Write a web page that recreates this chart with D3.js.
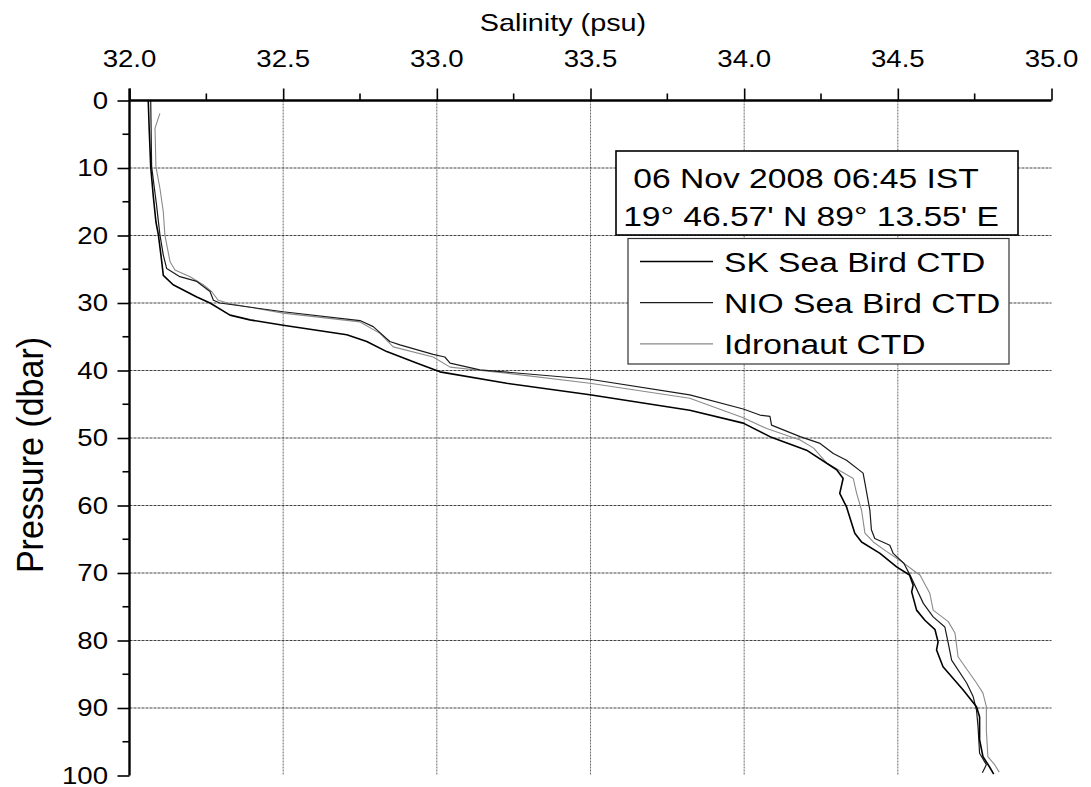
<!DOCTYPE html>
<html>
<head>
<meta charset="utf-8">
<script src="https://cdn.jsdelivr.net/npm/d3@7"></script>
<style>
  html, body { margin: 0; padding: 0; background: #fff; }
  svg { display: block; font-family: "Liberation Sans", Arial, sans-serif; }
</style>
</head>
<body>
<svg id="chart" width="1091" height="787"></svg>
<script>
// CTD salinity profiles, pressure (dbar) vs salinity (psu)
const skPressure = [0, 4.1, 9.8, 14.0, 18.0, 19.9, 23.9, 25.9, 27.3, 29.1, 30.0, 31.8, 32.5, 33.3, 34.7, 35.7, 37.2, 38.9, 40.2, 41.9, 43.6, 45.9, 47.8, 49.8, 51.8, 54.7, 56.0, 58.2, 60.2, 64.1, 65.4, 67.1, 69.1, 70.3, 71.8, 72.8, 75.5, 77.0, 78.4, 80.2, 81.4, 83.9, 87.3, 89.8, 91.3, 94.7, 97.2, 98.7, 99.8];
const skSalinity = [32.061, 32.064, 32.069, 32.077, 32.086, 32.094, 32.105, 32.110, 32.142, 32.219, 32.262, 32.327, 32.392, 32.500, 32.707, 32.772, 32.837, 32.934, 33.010, 33.227, 33.498, 33.823, 33.997, 34.084, 34.203, 34.301, 34.322, 34.311, 34.333, 34.360, 34.382, 34.442, 34.496, 34.538, 34.550, 34.545, 34.561, 34.588, 34.621, 34.631, 34.626, 34.647, 34.712, 34.756, 34.766, 34.766, 34.777, 34.798, 34.812];

const nioPressure = [0, 9.8, 15.5, 19.9, 22.9, 24.9, 26.1, 26.8, 28.3, 29.6, 30.0, 31.3, 32.6, 33.5, 35.7, 36.2, 37.6, 38.0, 38.9, 39.9, 41.3, 43.6, 45.7, 46.6, 46.8, 48.1, 49.8, 50.8, 52.3, 53.3, 55.2, 56.7, 60.7, 63.6, 64.9, 65.9, 67.1, 68.6, 70.8, 74.5, 76.5, 78.0, 80.4, 82.9, 86.3, 88.3, 90.3, 92.8, 96.7, 98.4, 99.6];
const nioSalinity = [32.069, 32.072, 32.088, 32.099, 32.110, 32.121, 32.164, 32.219, 32.262, 32.273, 32.294, 32.500, 32.750, 32.793, 32.847, 32.880, 32.988, 33.026, 33.043, 33.140, 33.498, 33.823, 33.997, 34.051, 34.084, 34.089, 34.182, 34.247, 34.290, 34.333, 34.387, 34.393, 34.409, 34.414, 34.425, 34.474, 34.485, 34.520, 34.545, 34.583, 34.615, 34.653, 34.664, 34.675, 34.724, 34.745, 34.756, 34.761, 34.766, 34.788, 34.775];

const idroPressure = [1.9, 4.1, 9.8, 13.0, 16.5, 19.9, 23.9, 25.1, 26.1, 27.3, 28.3, 29.6, 30.1, 31.5, 32.8, 34.5, 36.5, 38.0, 39.5, 40.4, 41.9, 44.1, 47.0, 48.6, 50.3, 51.5, 53.7, 56.0, 58.2, 60.7, 64.1, 65.4, 66.8, 68.1, 69.6, 70.3, 73.0, 75.5, 77.2, 78.9, 82.4, 86.3, 87.8, 89.8, 93.3, 97.2, 98.4, 99.5];
const idroSalinity = [32.099, 32.083, 32.086, 32.099, 32.110, 32.115, 32.132, 32.148, 32.197, 32.240, 32.267, 32.289, 32.327, 32.500, 32.750, 32.815, 32.858, 32.988, 33.043, 33.227, 33.498, 33.823, 33.997, 34.073, 34.182, 34.226, 34.268, 34.355, 34.366, 34.382, 34.393, 34.420, 34.463, 34.506, 34.550, 34.572, 34.604, 34.615, 34.664, 34.686, 34.696, 34.756, 34.777, 34.788, 34.788, 34.793, 34.815, 34.830];

const seriesNames = ["SK Sea Bird CTD", "NIO Sea Bird CTD", "Idronaut CTD"];
const salinityTicks = [32.0, 32.5, 33.0, 33.5, 34.0, 34.5, 35.0];
const salinityMinorTicks = [32.25, 32.75, 33.25, 33.75, 34.25, 34.75];
const pressureTicks = [0, 10, 20, 30, 40, 50, 60, 70, 80, 90, 100];
const pressureMinorTicks = [5, 15, 25, 35, 45, 55, 65, 75, 85, 95];
const stationLines = ["06 Nov 2008 06:45 IST", "19° 46.57' N 89° 13.55' E"];

const series = [
  { name: seriesNames[0], p: skPressure, s: skSalinity, color: "#000", width: 1.6 },
  { name: seriesNames[1], p: nioPressure, s: nioSalinity, color: "#1a1a1a", width: 1.2 },
  { name: seriesNames[2], p: idroPressure, s: idroSalinity, color: "#8a8a8a", width: 1.1 }
];

const svg = d3.select("#chart");
const plotLeft = 129.5, plotRight = 1051.5, plotTop = 100.5, plotBottom = 775.5;
const x = d3.scaleLinear().domain([32, 35]).range([plotLeft, plotRight]);
const y = d3.scaleLinear().domain([0, 100]).range([plotTop, plotBottom]);
const SX = 1.2; // glyphs are drawn wide

function label(g, tx, ty, txt, size, anchor) {
  return g.append("g").attr("transform", `translate(${tx},${ty}) scale(${SX},1)`)
    .append("text").attr("x", 0).attr("y", 0)
    .attr("font-size", size).attr("text-anchor", anchor).attr("fill", "#000").text(txt);
}

// grid
const grid = svg.append("g");
grid.selectAll("line.v").data(salinityTicks.filter(d => d > 32 && d < 35)).join("line")
  .attr("class", "v")
  .attr("x1", d => x(d)).attr("x2", d => x(d)).attr("y1", plotTop).attr("y2", plotBottom)
  .attr("stroke", "#6a6a6a").attr("stroke-width", 1).attr("stroke-dasharray", "2,1");
grid.selectAll("line.h").data(pressureTicks.filter(d => d > 0 && d < 100)).join("line")
  .attr("class", "h")
  .attr("x1", plotLeft).attr("x2", plotRight).attr("y1", d => y(d)).attr("y2", d => y(d))
  .attr("stroke", "#444").attr("stroke-width", 1).attr("stroke-dasharray", "3,1");

// profiles
svg.append("clipPath").attr("id", "plot-clip").append("rect")
  .attr("x", plotLeft).attr("y", plotTop).attr("width", plotRight - plotLeft).attr("height", plotBottom - plotTop + 5);
const line = d3.line().x(d => x(d[0])).y(d => y(d[1]));
const curves = svg.append("g").attr("clip-path", "url(#plot-clip)");
series.slice().reverse().forEach(sr => {
  const pts = sr.s.map((v, i) => [v, sr.p[i]]);
  curves.append("path").datum(pts).attr("d", line)
    .attr("fill", "none").attr("stroke", sr.color).attr("stroke-width", sr.width)
    .attr("stroke-linejoin", "round");
});

// top axis (salinity)
const xAxis = svg.append("g").attr("transform", `translate(0,${plotTop})`);
xAxis.call(d3.axisTop(x).tickValues(salinityTicks).tickSize(12).tickFormat(""));
xAxis.call(g => g.select(".domain").remove());
xAxis.selectAll(".tick line").attr("stroke", "#000").attr("stroke-width", 1.6);
xAxis.selectAll("line.minor").data(salinityMinorTicks).join("line").attr("class", "minor")
  .attr("x1", d => x(d)).attr("x2", d => x(d)).attr("y1", 0).attr("y2", -7)
  .attr("stroke", "#000").attr("stroke-width", 1.6);
svg.append("line").attr("x1", plotLeft).attr("x2", plotRight).attr("y1", plotTop).attr("y2", plotTop)
  .attr("stroke", "#000").attr("stroke-width", 2.4);
salinityTicks.forEach(v => label(svg, x(v), 67, v.toFixed(1), 23, "middle"));
label(svg, 563, 31, "Salinity (psu)", 24, "middle");

// left axis (pressure)
const yAxis = svg.append("g").attr("transform", `translate(${plotLeft},0)`);
yAxis.call(d3.axisLeft(y).tickValues(pressureTicks).tickSize(12).tickFormat(""));
yAxis.call(g => g.select(".domain").remove());
yAxis.selectAll(".tick line").attr("stroke", "#000").attr("stroke-width", 1.6);
yAxis.selectAll("line.minor").data(pressureMinorTicks).join("line").attr("class", "minor")
  .attr("x1", 0).attr("x2", -7).attr("y1", d => y(d)).attr("y2", d => y(d))
  .attr("stroke", "#000").attr("stroke-width", 1.6);
svg.append("line").attr("x1", plotLeft).attr("x2", plotLeft).attr("y1", plotTop - 12).attr("y2", plotBottom)
  .attr("stroke", "#000").attr("stroke-width", 2.4);
pressureTicks.forEach(v => label(svg, 108, y(v) + 8, String(v), 23, "end"));
svg.append("g").attr("transform", "translate(43,455) rotate(-90) scale(1,1.1)")
  .append("text").attr("font-size", 34).attr("text-anchor", "middle").text("Pressure (dbar)");

// station info box
const info = svg.append("g");
info.append("rect").attr("x", 616).attr("y", 151).attr("width", 402).attr("height", 84)
  .attr("fill", "#fff").attr("stroke", "#000").attr("stroke-width", 1.6);
label(info, 806, 188, stationLines[0], 28, "middle");
label(info, 811, 226, stationLines[1], 28, "middle");

// legend
const legend = svg.append("g");
legend.append("rect").attr("x", 628).attr("y", 238.5).attr("width", 381).attr("height", 125.5)
  .attr("fill", "#fff").attr("stroke", "#333").attr("stroke-width", 1.2);
series.forEach((sr, i) => {
  const cy = 261.5 + i * 41.2;
  legend.append("line").attr("x1", 640).attr("x2", 713).attr("y1", cy).attr("y2", cy)
    .attr("stroke", sr.color).attr("stroke-width", sr.width);
  label(legend, 724, cy + 10, sr.name, 28, "start");
});
</script>
</body>
</html>
